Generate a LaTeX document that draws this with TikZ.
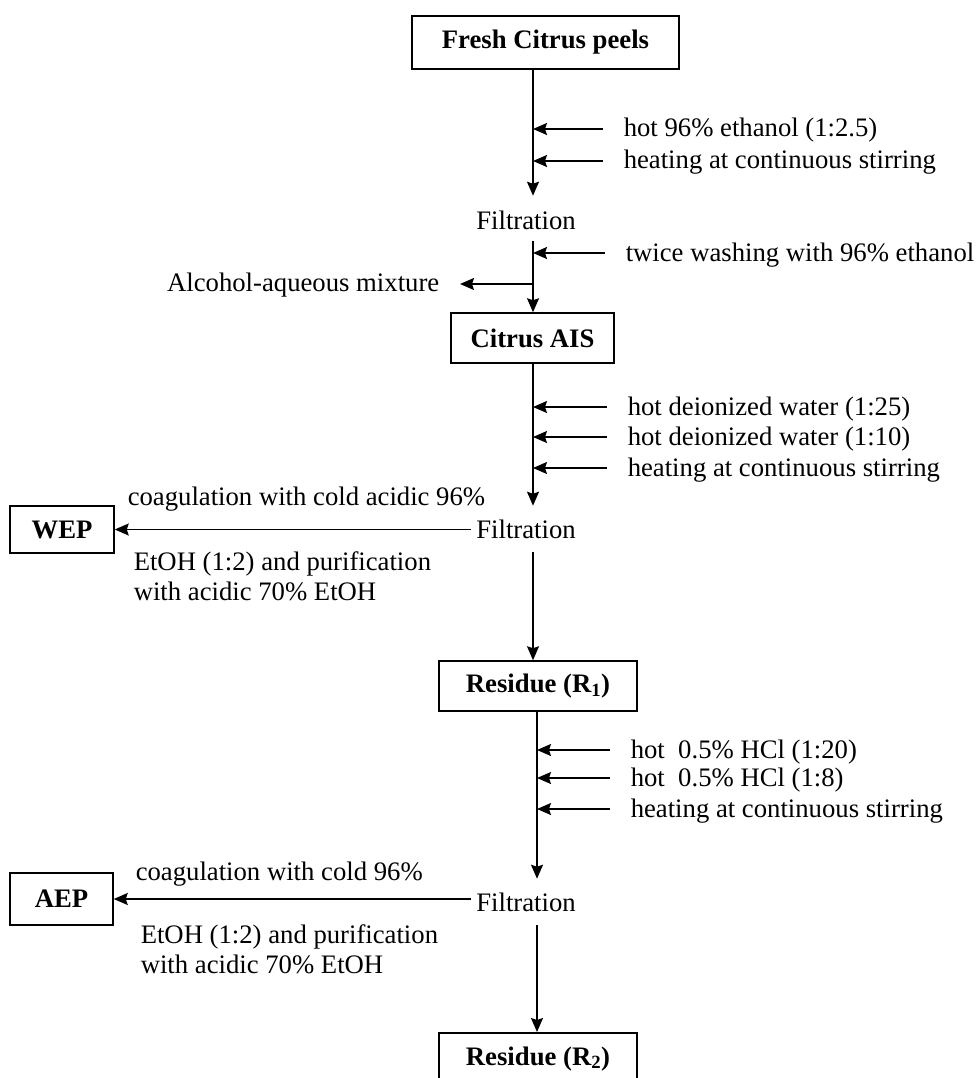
\documentclass[tikz,border=0pt]{standalone}
\usepackage{fontspec}
\setmainfont{Liberation Serif}
\usetikzlibrary{calc,arrows.meta}

\begin{document}
\begin{tikzpicture}[x=1pt,y=-1pt,line width=1.5pt,
  every node/.style={font=\fontsize{26.7}{30}\selectfont},
  stage/.style={draw,inner sep=0pt,font=\fontsize{26.7}{30}\selectfont\bfseries},
  note/.style={inner sep=0pt,anchor=base west},
  sep/.style={inner sep=5pt,anchor=base},
  flow/.style={-{Stealth[length=14pt,width=12pt,inset=2pt]}}]

\useasboundingbox (0,0) rectangle (979,1078);
\clip (0,0) rectangle (979,1078);

\coordinate (m1) at (533,0);
\coordinate (m3) at (537,0);

\node[stage,minimum width=267pt,minimum height=53pt] (peel) at (545.5,42.5) {Fresh Citrus peels};
\node[sep] (filt1) at (526,229) {Filtration};
\node[stage,minimum width=163pt,minimum height=50pt] (ais) at (532.5,338) {Citrus AIS};
\node[sep] (filt2) at (526,538) {Filtration};
\node[stage,minimum width=104pt,minimum height=47pt] (wep) at (62,529.5) {WEP};
\node[stage,minimum width=198pt,minimum height=50pt] (res1) at (538,686) {Residue (R\textsubscript{1})};
\node[sep] (filt3) at (526,911) {Filtration};
\node[stage,minimum width=103pt,minimum height=52pt] (aep) at (61.5,899) {AEP};
\node[stage,minimum width=198pt,minimum height=52pt,anchor=north] (res2) at (538,1032) {Residue (R\textsubscript{2})};

\node[note] (ethanol) at (623,137) {hot 96\% ethanol (1:2.5)};
\node[note] (stir1) at (623,169) {heating at continuous stirring};
\node[note] (wash) at (625,261) {twice washing with 96\% ethanol};
\node[note,anchor=base east] (mix) at (440,291) {Alcohol-aqueous mixture};
\node[note] (water1) at (627,415) {hot deionized water (1:25)};
\node[note] (water2) at (627,445) {hot deionized water (1:10)};
\node[note] (stir2) at (627,476) {heating at continuous stirring};
\node[note] (coag1) at (127,505) {coagulation with cold acidic 96\%};
\node[note] (puri1) at (133,570) {EtOH (1:2) and purification};
\node[note] (puri1b) at (133,600) {with acidic 70\% EtOH};
\node[note] (acid1) at (630,758) {hot\ \ 0.5\% HCl (1:20)};
\node[note] (acid2) at (630,786) {hot\ \ 0.5\% HCl (1:8)};
\node[note] (stir3) at (630,817) {heating at continuous stirring};
\node[note] (coag2) at (135,880) {coagulation with cold 96\%};
\node[note] (puri2) at (140,943) {EtOH (1:2) and purification};
\node[note] (puri2b) at (140,973) {with acidic 70\% EtOH};

\draw[flow,shorten >=9pt] (peel.south -| m1) -- (filt1.north -| m1);
\draw[flow,shorten <=6pt] (filt1.south -| m1) -- (ais.north -| m1);
\draw[flow,shorten >=20pt] ($(mix.base east -| m1)+(0,-7)$) -- ($(mix.base east)+(0,-7)$);
\draw[flow,shorten >=8pt] (ais.south -| m1) -- (filt2.north -| m1);
\draw[flow,shorten <=8pt] (filt2.south -| m1) -- (res1.north -| m1);
\draw[flow] (filt2.west |- wep.east) -- (wep.east);
\draw[flow,shorten >=8pt] (res1.south -| m3) -- (filt3.north -| m3);
\draw[flow,shorten <=8pt] (filt3.south -| m3) -- (res2.north -| m3);
\draw[flow] (filt3.west |- aep.east) -- (aep.east);

\foreach \n/\m in {ethanol/m1,stir1/m1,wash/m1,water1/m1,water2/m1,stir2/m1,acid1/m3,acid2/m3,stir3/m3}
  \draw[flow] ($(\n.base west)+(-20,-8)$) -- ($(\n.base west -| \m)+(0,-8)$);

\end{tikzpicture}
\end{document}
